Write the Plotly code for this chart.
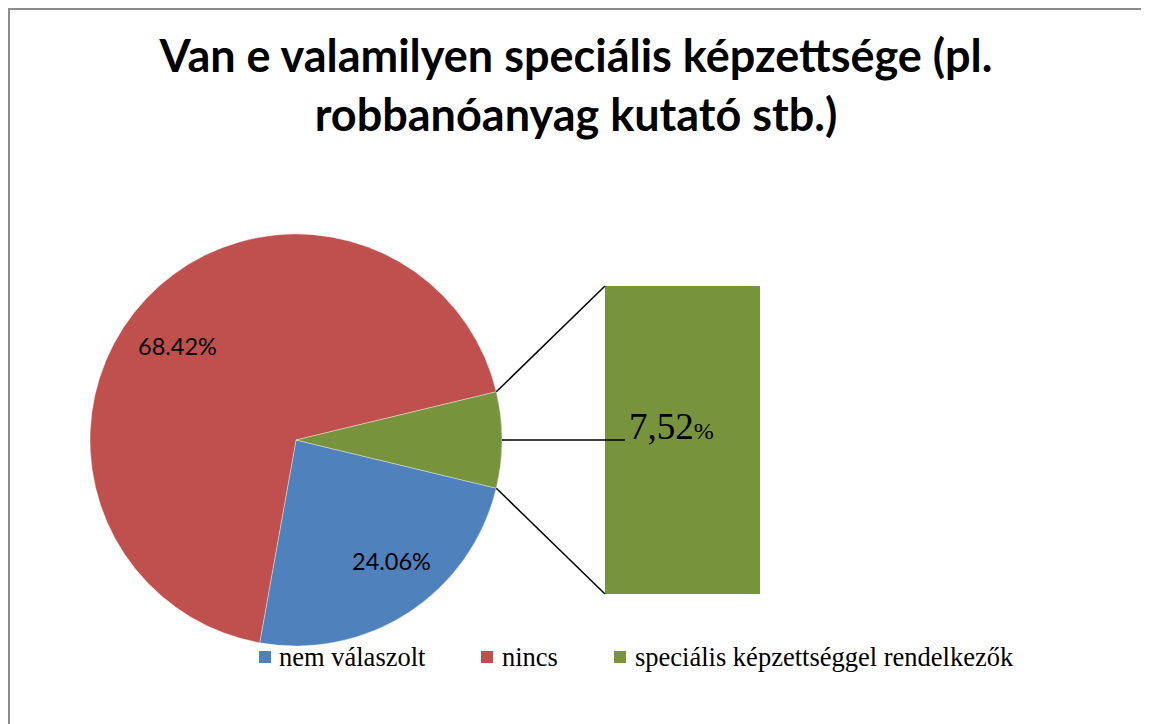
import math
import plotly.graph_objects as go

# ---- data ----
categories = ["nem válaszolt", "nincs", "speciális képzettséggel rendelkezők"]
values = [24.06, 68.42, 7.52]
colors = ["#4F81BD", "#C0504D", "#77933C"]
title_text = "Van e valamilyen speciális képzettsége (pl.<br>robbanóanyag kutató stb.)"

OFF = 8  # page body margin of the html page
W, H = 1149 - OFF, 724 - OFF  # figure fits the window without scrollbars


def px(x):
    return (x - OFF) / W


def py(y):
    return 1 - (y - OFF) / H


# pie geometry (page pixels)
cx, cy, R = 296, 440, 206
total = sum(values)
green_deg = values[2] / total * 360
rotation = 90 + green_deg / 2

fig = go.Figure()

fig.add_trace(go.Pie(
    labels=categories,
    values=values,
    marker=dict(colors=colors, line=dict(color="rgba(255,255,255,0.6)", width=0.6)),
    sort=False,
    direction="clockwise",
    rotation=rotation,
    textinfo="none",
    domain=dict(x=[px(cx - R), px(cx + R)], y=[py(cy + R), py(cy - R)]),
    showlegend=False,
    hoverinfo="label+percent",
))

# bar of the green slice
fig.add_trace(go.Bar(
    x=[0], y=[values[2]], width=[1],
    marker=dict(color=colors[2], line=dict(width=0)),
    xaxis="x", yaxis="y", showlegend=False, hoverinfo="y",
))

bar_x0, bar_x1, bar_y0, bar_y1 = 605, 760, 286, 594

fig.update_layout(
    width=W, height=H,
    margin=dict(l=0, r=0, t=0, b=0),
    paper_bgcolor="white", plot_bgcolor="rgba(0,0,0,0)",
    xaxis=dict(domain=[px(bar_x0), px(bar_x1)], range=[-0.5, 0.5], visible=False, fixedrange=True),
    yaxis=dict(domain=[py(bar_y1), py(bar_y0)], range=[0, values[2]], visible=False, fixedrange=True),
    bargap=0,
    title=dict(text=title_text, x=px(576), xanchor="center", y=py(72), yanchor="top",
               font=dict(family="Lato", size=45, color="black", weight="bold")),
    showlegend=False,
)

shapes = []
# border
shapes.append(dict(type="rect", xref="paper", yref="paper", x0=px(9), x1=px(1143), y0=py(760), y1=py(9),
                   line=dict(color="#8c8c8c", width=2), layer="above"))
# connector lines from the green slice edges to the bar corners
half = math.radians(green_deg / 2)
ux, uy = cx + R * math.cos(half), cy - R * math.sin(half)
lx, ly = cx + R * math.cos(half), cy + R * math.sin(half)
shapes.append(dict(type="line", xref="paper", yref="paper", x0=px(ux), y0=py(uy), x1=px(bar_x0), y1=py(bar_y0),
                   line=dict(color="black", width=1.5)))
shapes.append(dict(type="line", xref="paper", yref="paper", x0=px(lx), y0=py(ly), x1=px(bar_x0), y1=py(bar_y1),
                   line=dict(color="black", width=1.5)))
# leader line to the bar label
shapes.append(dict(type="line", xref="paper", yref="paper", x0=px(cx + R), y0=py(cy), x1=px(625), y1=py(cy),
                   line=dict(color="black", width=1.5)))

annotations = []

# slice labels for the two pie slices (angle measured clockwise from 12 o'clock)
start = rotation
label_r = [0.75, 0.735]
for i in range(2):
    span = values[i] / total * 360
    mid = start + span / 2
    start += span
    ang = math.radians(90 - mid + 5)  # math angle
    lxp = cx + label_r[i] * R * math.cos(ang)
    lyp = cy - label_r[i] * R * math.sin(ang)
    annotations.append(dict(xref="paper", yref="paper", x=px(lxp), y=py(lyp), xanchor="center", yanchor="middle",
                            text=f"{values[i]:.2f}%", showarrow=False,
                            font=dict(family="Lato", size=23.5, color="black")))

green_label = f"{values[2]:.2f}".replace(".", ",")
annotations.append(dict(
    xref="paper", yref="paper", x=px(627), y=py(426), xanchor="left", yanchor="middle",
    text=f"{green_label}<span style='font-size:24px'>%</span>", showarrow=False,
    font=dict(family="Liberation Serif", size=37, color="black"),
))

# legend (manual, built from the category list)
legend_sym_x = [259, 481, 614]
legend_text_x = [277, 500, 633]
leg_y = 657
for i, cat in enumerate(categories):
    shapes.append(dict(type="rect", xref="paper", yref="paper",
                       x0=px(legend_sym_x[i]), x1=px(legend_sym_x[i] + 12),
                       y0=py(leg_y + 6), y1=py(leg_y - 6),
                       fillcolor=colors[i], line=dict(width=0)))
    annotations.append(dict(xref="paper", yref="paper", x=px(legend_text_x[i]), y=py(leg_y),
                            xanchor="left", yanchor="middle", text=cat, showarrow=False,
                            font=dict(family="Liberation Serif", size=26.5, color="black")))

fig.update_layout(shapes=shapes, annotations=annotations)

fig.write_html("out.html")
